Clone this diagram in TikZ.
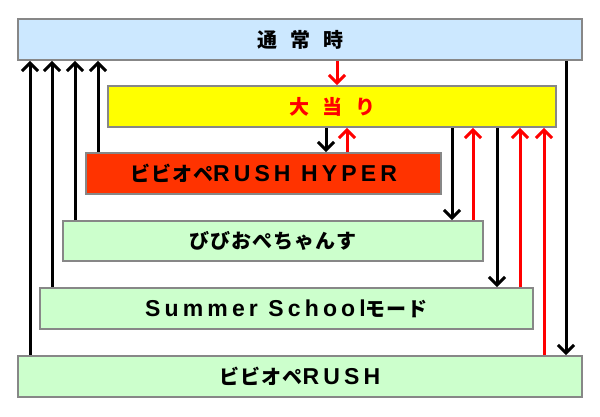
\documentclass[tikz,border=0pt]{standalone}
\usepackage{fontspec}
\newfontfamily\jp{Noto Sans CJK JP}[LetterSpace=5]
\newfontfamily\lat{Liberation Sans}[LetterSpace=18]
\newcommand\JPt[1]{{\fontsize{20pt}{24pt}\selectfont\jp\bfseries #1}}
\newcommand\LTt[1]{{\fontsize{23pt}{26pt}\selectfont\lat\bfseries #1}}
\usetikzlibrary{arrows.meta}
\definecolor{cblue}{HTML}{CCE8FF}
\definecolor{cyel}{HTML}{FFFF00}
\definecolor{cred}{HTML}{FF3300}
\definecolor{cgreen}{HTML}{CCFFCC}
\definecolor{cborder}{HTML}{878787}
\definecolor{ared}{HTML}{FF0000}
\begin{document}
\begin{tikzpicture}[x=1pt,y=-1pt,
  box/.style={draw=cborder, line width=1.8pt, rectangle, inner sep=0pt, minimum height=41pt},
  conn/.style={line width=3pt, -{Straight Barb[length=8pt,width=16pt]}},
  blk/.style={conn, draw=black},
  rd/.style={conn, draw=ared}]
\useasboundingbox (0,0) rectangle (600,416);
\node[box, fill=cblue, minimum width=564pt] (normal) at (300,39.5) {\JPt{通\hspace{13pt}常\hspace{13pt}時}};
\node[box, fill=cyel, minimum width=448pt, text=ared] (big) at (332,106.5) {\JPt{大\hspace{13pt}当\hspace{13pt}り}};
\node[box, fill=cred, minimum width=355pt] (hyper) at (263.5,173.5) {\JPt{ビビオペ}\LTt{RUSH HYPER}};
\node[box, fill=cgreen, minimum width=420pt, minimum height=40pt] (bibi) at (273,241) {\JPt{びびおぺちゃんす}};
\node[box, fill=cgreen, minimum width=493pt] (summer) at (286.5,308.5) {\LTt{Summer School}\JPt{モード}};
\node[box, fill=cgreen, minimum width=564pt] (rush) at (300,376.5) {\JPt{ビビオペ}\LTt{RUSH}};
% x positions
\coordinate (xa) at (30,0);
\coordinate (xb) at (52,0);
\coordinate (xc) at (75,0);
\coordinate (xd) at (98,0);
\coordinate (xe) at (326,0);
\coordinate (xf) at (337,0);
\coordinate (xg) at (347,0);
\coordinate (xh) at (452,0);
\coordinate (xi) at (473,0);
\coordinate (xj) at (497,0);
\coordinate (xk) at (520,0);
\coordinate (xl) at (544,0);
\coordinate (xm) at (566,0);
% returns to normal
\draw[blk] (rush.north -| xa) -- (normal.south -| xa);
\draw[blk] (summer.north -| xb) -- (normal.south -| xb);
\draw[blk] (bibi.north -| xc) -- (normal.south -| xc);
\draw[blk] (hyper.north -| xd) -- (normal.south -| xd);
% normal to big
\draw[rd] (normal.south -| xf) -- (big.north -| xf);
% big <-> hyper
\draw[blk] (big.south -| xe) -- (hyper.north -| xe);
\draw[rd] (hyper.north -| xg) -- (big.south -| xg);
% big <-> bibi
\draw[blk] (big.south -| xh) -- (bibi.north -| xh);
\draw[rd] (bibi.north -| xi) -- (big.south -| xi);
% big <-> summer
\draw[blk] (big.south -| xj) -- (summer.north -| xj);
\draw[rd] (summer.north -| xk) -- (big.south -| xk);
% rush -> big
\draw[rd] (rush.north -| xl) -- (big.south -| xl);
% normal -> rush
\draw[blk] (normal.south -| xm) -- (rush.north -| xm);
\end{tikzpicture}
\end{document}
